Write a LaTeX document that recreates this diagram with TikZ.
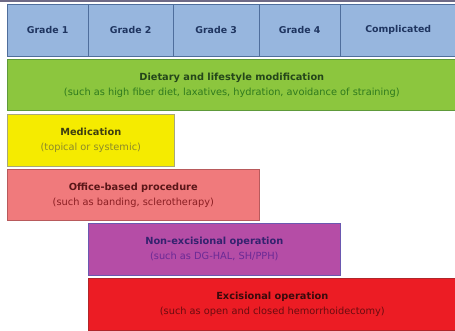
\documentclass[tikz,border=0pt]{standalone}
\usepackage{fontspec}
\setmainfont{DejaVu Sans}
\usepackage{tikz}

\definecolor{hdrblue}{HTML}{97B6DE}
\definecolor{hdrline}{HTML}{4F6E9C}
\definecolor{hdrtext}{HTML}{1F3560}
\definecolor{topline}{HTML}{6E6A86}
\definecolor{dietfill}{HTML}{8CC63E}
\definecolor{dietline}{HTML}{5E9A3A}
\definecolor{medfill}{HTML}{F5EB00}
\definecolor{medline}{HTML}{A8A878}
\definecolor{officefill}{HTML}{F07A7C}
\definecolor{officeline}{HTML}{B85A5C}
\definecolor{nonexfill}{HTML}{B54DA6}
\definecolor{nonexline}{HTML}{6A58B0}
\definecolor{exfill}{HTML}{EC1C24}
\definecolor{exline}{HTML}{B0262A}

\tikzset{
  cell/.style={draw=hdrline, fill=hdrblue, anchor=north west, inner sep=0pt,
    minimum height=52pt, font=\fontsize{9.4}{11}\selectfont\bfseries, text=hdrtext},
  bar/.style={anchor=north west, inner sep=0pt, align=center, line width=0.6pt,
    font=\fontsize{9.8}{12}\selectfont\bfseries},
}
\newcommand{\subline}[1]{\\[3pt]{\normalfont\fontsize{9.8}{12}\selectfont #1}}

\begin{document}
\begin{tikzpicture}[x=1pt,y=-1pt]
\useasboundingbox (0,0) rectangle (455,330);
\fill[white] (0,0) rectangle (455,330);
\draw[topline, line width=1.5pt] (0,0.75) -- (455,0.75);
% header row
\node[cell, minimum width=81pt]  (g1) at (7,4)   {Grade 1};
\node[cell, minimum width=85pt]  (g2) at (88,4)  {Grade 2};
\node[cell, minimum width=86pt]  (g3) at (173,4) {Grade 3};
\node[cell, minimum width=81pt]  (g4) at (259,4) {Grade 4};
\node[cell, minimum width=116pt] (gc) at (340,4) {Complicated};
% treatment bars
\node[bar, draw=dietline, fill=dietfill, minimum width=449pt, minimum height=51pt] (diet) at (7,59)
  {\color[HTML]{24461A}Dietary and lifestyle modification
   \subline{\color[HTML]{2F7A1E}(such as high fiber diet, laxatives, hydration, avoidance of straining)}};
\node[bar, draw=medline, fill=medfill, minimum width=167pt, minimum height=52pt] (med) at (7,114)
  {\color[HTML]{3E3E10}Medication
   \subline{\color[HTML]{8C8A2A}(topical or systemic)}};
\node[bar, draw=officeline, fill=officefill, minimum width=252pt, minimum height=51pt] (office) at (7,169)
  {\color[HTML]{5A1618}Office-based procedure
   \subline{\color[HTML]{8A1E22}(such as banding, sclerotherapy)}};
\node[bar, draw=nonexline, fill=nonexfill, minimum width=252pt, minimum height=52pt] (nonex) at (88,223)
  {\color[HTML]{34226E}Non-excisional operation
   \subline{\color[HTML]{6A2A96}(such as DG-HAL, SH/PPH)}};
\node[bar, draw=exline, fill=exfill, minimum width=368pt, minimum height=52pt] (ex) at (88,278)
  {\color[HTML]{3A0A0C}Excisional operation
   \subline{\color[HTML]{6A0C10}(such as open and closed hemorrhoidectomy)}};
\end{tikzpicture}
\end{document}
